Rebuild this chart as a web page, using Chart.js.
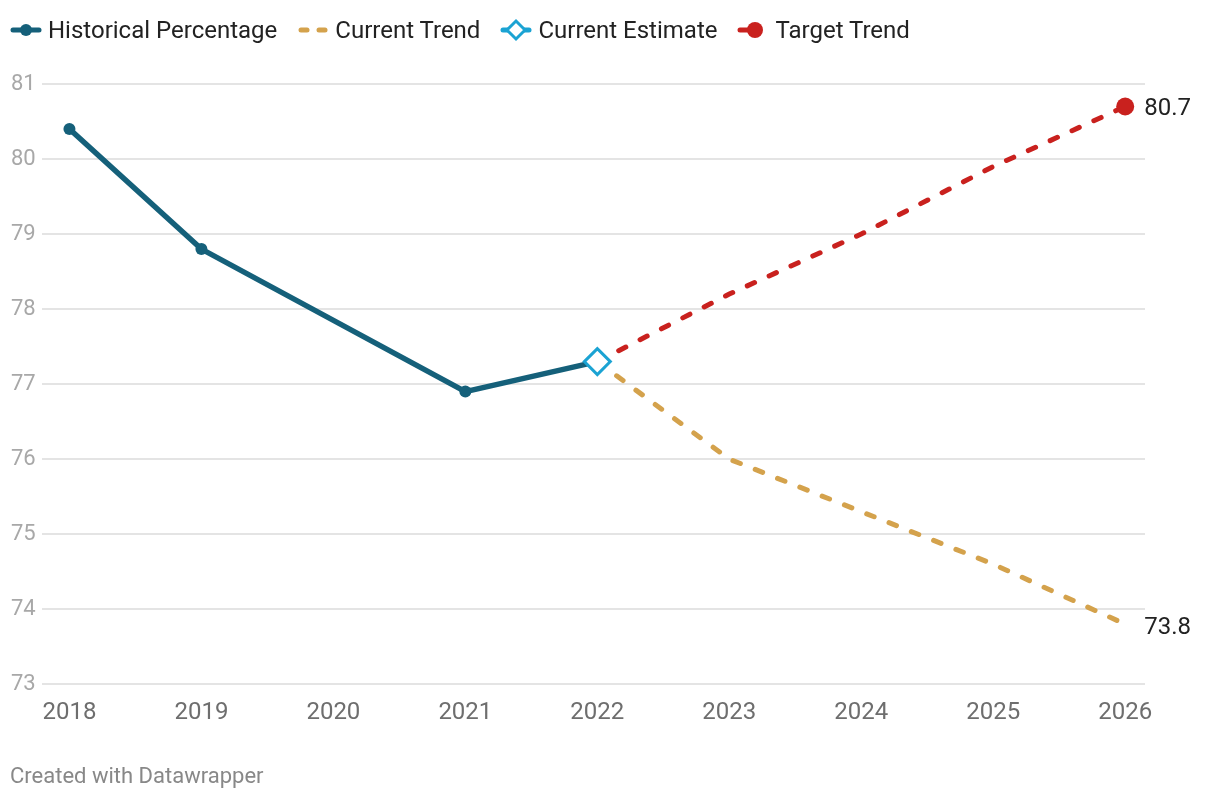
<!DOCTYPE html>
<html>
<head>
<meta charset="utf-8">
<script src="https://cdn.jsdelivr.net/npm/chart.js@4"></script>
<style>
  html, body { margin: 0; padding: 0; background: #fff; }
  body { width: 1220px; height: 800px; position: relative; overflow: hidden; font-family: Roboto, sans-serif; }
  #wrap { position: absolute; left: 0; top: 0; width: 1220px; height: 800px; }
  #legend { position: absolute; left: 10px; top: 16px; display: flex; align-items: center; font-size: 24px; color: #222; }
  .item { display: flex; align-items: center; margin-right: 20px; }
  .item svg { margin-right: 6px; }
  #footer { position: absolute; left: 10px; top: 763px; font-size: 22px; color: #888; }
</style>
</head>
<body>
<div id="wrap"><canvas id="c"></canvas></div>
<div id="legend">
  <div class="item"><svg width="32" height="20"><line x1="3" y1="10" x2="29" y2="10" stroke="#15607a" stroke-width="5" stroke-linecap="round"/><circle cx="16" cy="10" r="6" fill="#15607a"/></svg>Historical Percentage</div>
  <div class="item"><svg width="32" height="20"><line x1="4" y1="10" x2="10" y2="10" stroke="#d4a24c" stroke-width="5" stroke-linecap="round"/><line x1="22" y1="10" x2="28" y2="10" stroke="#d4a24c" stroke-width="5" stroke-linecap="round"/></svg>Current Trend</div>
  <div class="item"><svg width="32" height="24"><line x1="3" y1="12" x2="29" y2="12" stroke="#1ba3d3" stroke-width="5" stroke-linecap="round"/><polygon points="16,3 25,12 16,21 7,12" fill="#fff" stroke="#1ba3d3" stroke-width="3"/></svg>Current Estimate</div>
  <div class="item"><svg width="32" height="20"><line x1="3" y1="10" x2="14" y2="10" stroke="#c9211e" stroke-width="5" stroke-linecap="round"/><circle cx="18" cy="10" r="8" fill="#c9211e"/></svg>Target Trend</div>
</div>
<div id="footer">Created with Datawrapper</div>
<script>
const years = [2018, 2019, 2020, 2021, 2022, 2023, 2024, 2025, 2026];
const historical = [80.4, 78.8, null, 76.9, 77.3, null, null, null, null];
const currentTrend = [null, null, null, null, 77.3, 76.0, 75.3, 74.6, 73.8];
const currentEstimate = [null, null, null, null, 77.3, null, null, null, null];
const targetTrend = [null, null, null, null, 77.3, 78.2, 79.0, 79.9, 80.7];
const yTicks = [73, 74, 75, 76, 77, 78, 79, 80, 81];

const pts = arr => years.map((y, i) => ({ x: y, y: arr[i] }));
const lastIdx = arr => { let k = -1; arr.forEach((v, i) => { if (v !== null) k = i; }); return k; };

const endLabels = {
  id: 'endLabels',
  afterDatasetsDraw(chart) {
    const ctx = chart.ctx;
    ctx.save();
    ctx.font = '24px Roboto, sans-serif';
    ctx.fillStyle = '#222';
    ctx.textBaseline = 'middle';
    ctx.textAlign = 'left';
    [{ ds: 1, arr: currentTrend, dy: 4 }, { ds: 2, arr: targetTrend, dy: 2 }].forEach(o => {
      const i = lastIdx(o.arr);
      const el = chart.getDatasetMeta(o.ds).data[i];
      ctx.fillText(o.arr[i].toFixed(1), el.x + 19, el.y + o.dy);
    });
    ctx.restore();
  }
};

new Chart(document.getElementById('c'), {
  type: 'line',
  data: {
    datasets: [
      {
        label: 'Historical Percentage', data: pts(historical),
        borderColor: '#15607a', backgroundColor: '#15607a', borderWidth: 5.5,
        pointRadius: historical.map((v, i) => (i === 4 ? 0 : 6)), pointBorderWidth: 0,
        spanGaps: true, order: 1
      },
      {
        label: 'Current Trend', data: pts(currentTrend),
        borderColor: '#d4a24c', backgroundColor: '#d4a24c', borderWidth: 5,
        borderDash: [8, 16], borderCapStyle: 'round', pointRadius: 0, order: 3
      },
      {
        label: 'Target Trend', data: pts(targetTrend),
        borderColor: '#c9211e', backgroundColor: '#c9211e', borderWidth: 5,
        borderDash: [8, 16], borderCapStyle: 'round',
        pointRadius: targetTrend.map((v, i) => (i === 8 ? 9 : 0)), pointBorderWidth: 0, order: 2
      },
      {
        label: 'Current Estimate', data: pts(currentEstimate),
        borderColor: '#1ba3d3', backgroundColor: '#ffffff', borderWidth: 3,
        pointStyle: 'rectRot', pointRadius: 13, pointBorderWidth: 3, showLine: false, order: 0
      }
    ]
  },
  options: {
    responsive: true, maintainAspectRatio: false, animation: false,
    layout: { padding: { top: 84, bottom: 67, left: 5, right: 75 } },
    plugins: { legend: { display: false }, tooltip: { enabled: false } },
    elements: { line: { tension: 0 } },
    clip: false,
    scales: {
      x: {
        type: 'linear', min: 2017.79, max: 2026.15,
        afterBuildTicks: s => { s.ticks = years.map(v => ({ value: v })); },
        grid: { display: false }, border: { display: false },
        ticks: { color: '#6e6e6e', font: { family: 'Roboto', size: 24 }, padding: 6, autoSkip: false, maxRotation: 0, callback: v => String(v) }
      },
      y: {
        min: 73, max: 81,
        afterBuildTicks: s => { s.ticks = yTicks.map(v => ({ value: v })); },
        grid: { color: '#e4e4e4', lineWidth: 2, drawTicks: false }, border: { display: false },
        ticks: { color: '#a8a8a8', font: { family: 'Roboto', size: 22 }, padding: 6 }
      }
    }
  },
  plugins: [endLabels]
});
</script>
</body>
</html>
